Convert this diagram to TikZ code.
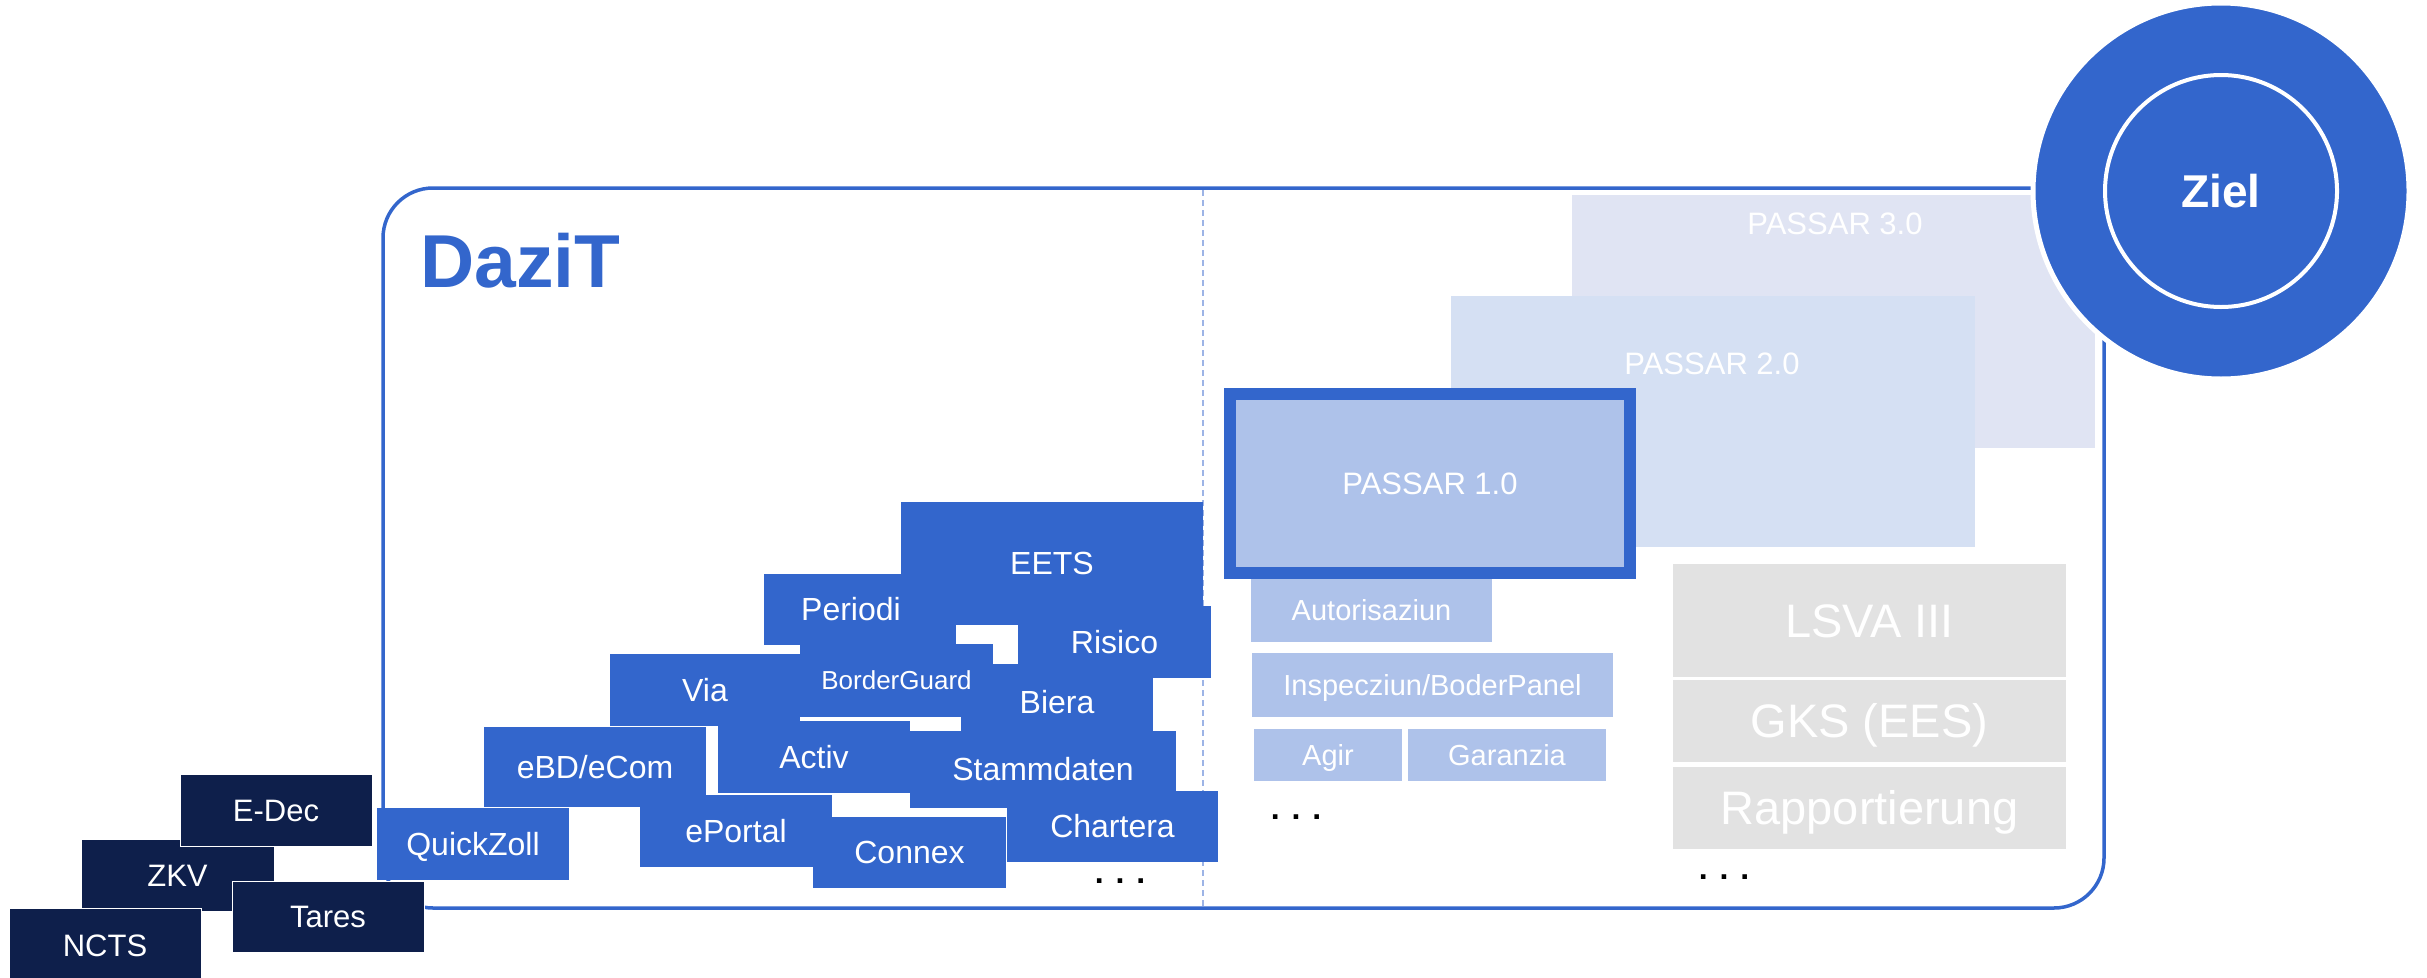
\documentclass[tikz,border=0pt]{standalone}
\usepackage{fontspec}
\setmainfont{Liberation Sans}
\definecolor{bluec}{HTML}{3366CC}
\definecolor{navyc}{HTML}{0E1F4B}
\definecolor{litec}{HTML}{AEC2EA}
\definecolor{ptwoc}{HTML}{D5E0F3}
\definecolor{pthreec}{HTML}{E0E4F3}
\definecolor{grayc}{HTML}{E2E2E2}
\definecolor{dashc}{HTML}{9DB4E6}
\newcommand\fsz[1]{\fontsize{#1}{#1}\selectfont}
\newcommand\bx[7]{\node[#1, minimum width={(#5-#3)*1pt}, minimum height={(#6-#4)*1pt}] (#2) at ({(#3+#5)/2},{(#4+#6)/2}) {#7};}
\tikzset{
  boxbase/.style={rectangle, inner sep=0pt, outer sep=0pt, text=white, text depth=0pt},
  navybox/.style={boxbase, fill=navyc, draw=white, line width=1pt, font=\fsz{31}, text height=22.2pt},
  bluebox/.style={boxbase, fill=bluec, font=\fsz{32}, text height=22.9pt},
  bgbox/.style={boxbase, fill=bluec, font=\fsz{26}, text height=18.6pt},
  litebox/.style={boxbase, fill=litec, font=\fsz{29}, text height=20.8pt},
  grybox/.style={boxbase, fill=grayc, font=\fsz{47}, text height=33.6pt},
  pone/.style={boxbase, fill=litec, draw=bluec, line width=12pt, font=\fsz{31}, text height=22.2pt},
  ptwo/.style={boxbase, fill=ptwoc},
  pthree/.style={boxbase, fill=pthreec},
  plabel/.style={text=white, font=\fsz{31}, text height=22.2pt, text depth=0pt, inner sep=0pt},
  dots/.style={font=\bfseries\fsz{32}, anchor=base, inner sep=0pt, text=black},
  frame/.style={draw=bluec, line width=3.5pt, rounded corners=50pt},
  divider/.style={draw=dashc, line width=1.5pt, dash pattern=on 6pt off 4pt},
}
\begin{document}
\begin{tikzpicture}[x=1pt,y=-1pt]
\useasboundingbox (0,0) rectangle (2427,977);
% frame
\coordinate (ftl) at (383,188);
\coordinate (fbr) at (2104,908);
\draw[frame] (ftl) rectangle (fbr);
\coordinate (dtop) at (1203,190);
\coordinate (dbot) at (1203,906);
\draw[divider] (dtop) -- (dbot);
% title
\node[anchor=base west, inner sep=0pt, text=bluec, font=\bfseries\fsz{75}] (dazit) at (420,287) {DaziT};
% PASSAR stack
\bx{pthree}{p3}{1572}{195}{2095}{448}{}
\node[plabel] (p3t) at (1835,223) {PASSAR 3.0};
\bx{ptwo}{p2}{1451}{296}{1975}{547}{}
\node[plabel] (p2t) at (1712,363) {PASSAR 2.0};
\bx{pone}{p1}{1230}{394}{1630}{573}{PASSAR 1.0}
\bx{litebox}{auto}{1251}{579}{1492}{642}{Autorisaziun}
\bx{litebox}{insp}{1252}{653}{1613}{717}{Inspecziun/BoderPanel}
\bx{litebox}{agir}{1254}{729}{1402}{781}{Agir}
\bx{litebox}{gar}{1408}{729}{1606}{781}{Garanzia}
\node[dots] (dotsb) at (1296,819) {. . .};
% gray
\bx{grybox}{lsva}{1673}{564}{2066}{677}{LSVA III}
\bx{grybox}{gks}{1673}{680}{2066}{762}{GKS (EES)}
\bx{grybox}{rapp}{1673}{767}{2066}{849}{Rapportierung}
\node[dots] (dotsc) at (1724,879) {. . .};
% blue cluster
\bx{bluebox}{eets}{901}{502}{1203}{625}{EETS}
\bx{bluebox}{periodi}{764}{574}{956}{645}{Periodi\hspace*{18pt}}
\bx{bluebox}{risico}{1018}{606}{1211}{678}{Risico}
\bx{bluebox}{via}{610}{654}{800}{726}{Via}
\bx{bluebox}{biera}{961}{664}{1153}{740}{Biera}
\bx{bgbox}{bguard}{800}{644}{993}{717}{BorderGuard}
\bx{bluebox}{activ}{718}{721}{910}{793}{Activ}
\bx{bluebox}{stamm}{910}{731}{1176}{808}{Stammdaten}
\bx{bluebox}{chartera}{1007}{791}{1218}{862}{Chartera}
\bx{bluebox}{ebd}{484}{727}{706}{807}{eBD/eCom}
\bx{bluebox}{eportal}{640}{795}{832}{867}{ePortal}
\bx{bluebox}{connex}{813}{817}{1006}{888}{Connex}
\bx{bluebox}{quick}{377}{808}{569}{880}{QuickZoll}
\node[dots] (dotsa) at (1120,883) {. . .};
% navy legacy
\bx{navybox}{zkv}{81}{839}{274}{911}{ZKV}
\bx{navybox}{edec}{180}{774}{372}{846}{E-Dec}
\bx{navybox}{ncts}{9}{908}{201}{982}{NCTS}
\bx{navybox}{tares}{232}{881}{424}{952}{Tares}
% goal circle
\node[circle, fill=bluec, draw=white, line width=5pt, minimum size=376pt, inner sep=0pt] (goal) at (2221,191) {};
\node[circle, draw=white, line width=4pt, minimum size=232pt, inner sep=0pt, text=white, font=\bfseries\fsz{46}, text height=33pt, text depth=0pt] (ziel) at (2221,191) {Ziel};
\end{tikzpicture}
\end{document}
